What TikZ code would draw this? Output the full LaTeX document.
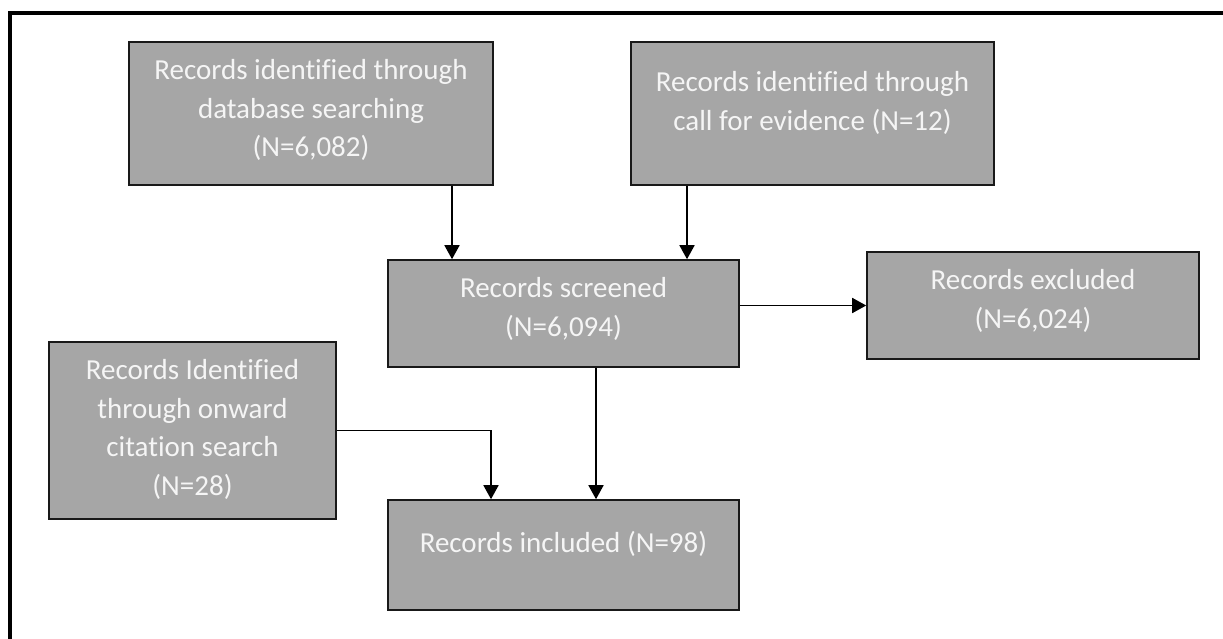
\documentclass[tikz,border=0pt]{standalone}
\usepackage{fontspec}
\setmainfont{Carlito}[Ligatures={NoCommon}]
\usetikzlibrary{arrows.meta}
\definecolor{boxgray}{RGB}{166,166,166}
\definecolor{boxtext}{RGB}{245,245,245}
\newcommand{\fstrut}{\rule{0pt}{24pt}}
\begin{document}
\begin{tikzpicture}[x=1pt,y=-1pt,
  box/.style={rectangle, draw=black!90, line width=1.6pt, fill=boxgray, inner sep=0pt},
  txt/.style={text=boxtext, align=center, inner sep=0pt, anchor=north,
    font=\fontsize{29pt}{38.7pt}\selectfont},
  arr/.style={draw=black, line width=1.7pt, -{Triangle[length=14pt,width=15pt]}},
  frame/.style={draw=black, line width=4pt}]
\useasboundingbox (0,0) rectangle (1223,639);
% outer frame (only top and left edges visible)
\coordinate (fbl) at (10,660);
\coordinate (ftl) at (10,12.8);
\coordinate (ftr) at (1240,12.8);
\draw[frame] (fbl) -- (ftl) -- (ftr);
% boxes
\node[box, minimum width=364pt, minimum height=143pt] (b1) at (311,113.5) {};
\node[box, minimum width=363pt, minimum height=143pt] (b2) at (812.5,113.5) {};
\node[box, minimum width=351pt, minimum height=107pt] (b3) at (563.5,313.5) {};
\node[box, minimum width=332pt, minimum height=107pt] (b4) at (1033,305.5) {};
\node[box, minimum width=287pt, minimum height=177pt] (b5) at (192.5,430.5) {};
\node[box, minimum width=351pt, minimum height=110pt] (b6) at (563.5,555) {};
% texts
\node[txt] (t1) at ([yshift=-14pt]b1.north) {\fstrut Records identified through\\database searching\\(N=6,082)};
\node[txt] (t2) at ([yshift=-26pt]b2.north) {\fstrut Records identified through\\call for evidence (N=12)};
\node[txt] (t3) at ([yshift=-14pt]b3.north) {\fstrut Records screened\\(N=6,094)};
\node[txt] (t4) at ([yshift=-14pt]b4.north) {\fstrut Records excluded\\(N=6,024)};
\node[txt] (t5) at ([yshift=-14pt]b5.north) {\fstrut Records Identified\\through onward\\citation search\\(N=28)};
\node[txt] (t6) at ([yshift=-29pt]b6.north) {\fstrut Records included (N=98)};
% connectors
\draw[arr] ([xshift=141pt]b1.south) -- ([xshift=141pt]b1.south |- b3.north);
\draw[arr] ([xshift=-125.5pt]b2.south) -- ([xshift=-125.5pt]b2.south |- b3.north);
\draw[arr] (b3.east |- b4.west) -- (b4.west);
\draw[arr] ([xshift=32.5pt]b3.south) -- ([xshift=32.5pt]b3.south |- b6.north);
\draw[arr] (b5.east) -| ([xshift=-72.5pt]b6.north);
\end{tikzpicture}
\end{document}
